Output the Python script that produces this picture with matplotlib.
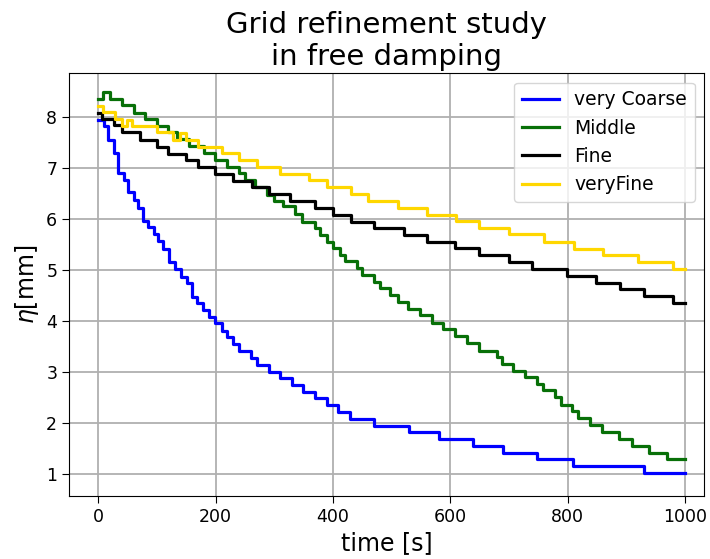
import matplotlib
matplotlib.use('Agg')
import matplotlib.pyplot as plt

# time [s] where each level starts, and the level eta [mm]
t_coarse = [0, 9, 16, 26, 34, 44, 50, 60, 68, 76, 85, 95, 102, 110, 120, 131, 140, 151, 159,
            168, 179, 188, 199, 210, 219, 230, 240, 260, 270, 290, 310, 330, 349, 369, 389,
            409, 429, 469, 530, 580, 639, 689, 748, 809, 929, 1000]
eta_coarse = [7.93, 7.81, 7.55, 7.28, 6.89, 6.76, 6.52, 6.36, 6.21, 5.96, 5.83, 5.70, 5.56,
              5.40, 5.14, 5.01, 4.86, 4.73, 4.47, 4.34, 4.21, 4.08, 3.95, 3.80, 3.67, 3.54,
              3.41, 3.26, 3.12, 3.00, 2.87, 2.74, 2.60, 2.48, 2.35, 2.20, 2.07, 1.94, 1.81,
              1.67, 1.54, 1.41, 1.28, 1.15, 1.02, 1.02]

t_middle = [0, 8.5, 20, 40, 60, 80, 100, 119, 134, 155, 180, 199, 220, 240, 250, 267, 287,
            300, 314, 335, 347, 369, 378, 389, 400, 412, 420, 440, 449, 469, 480, 497, 511,
            528, 548, 568, 588, 608, 628, 648, 679, 688, 707, 727, 747, 757, 778, 788, 807,
            818, 838, 858, 888, 909, 939, 969, 1000]
eta_middle = [8.34, 8.49, 8.34, 8.23, 8.08, 7.95, 7.82, 7.69, 7.56, 7.42, 7.29, 7.15, 7.01,
              6.89, 6.76, 6.62, 6.46, 6.35, 6.24, 6.09, 5.94, 5.81, 5.68, 5.55, 5.42, 5.29,
              5.16, 5.03, 4.90, 4.76, 4.64, 4.50, 4.37, 4.23, 4.10, 3.96, 3.83, 3.70, 3.56,
              3.41, 3.28, 3.15, 3.02, 2.89, 2.76, 2.63, 2.50, 2.35, 2.22, 2.09, 1.95, 1.81,
              1.68, 1.55, 1.41, 1.28, 1.28]

t_fine = [0, 6, 26, 40, 71, 100, 119, 150, 169, 199, 230, 261, 290, 327, 369, 400, 430, 470,
          520, 560, 608, 649, 700, 739, 798, 848, 889, 929, 979, 1000]
eta_fine = [8.08, 7.95, 7.84, 7.69, 7.54, 7.41, 7.27, 7.14, 7.01, 6.88, 6.74, 6.62, 6.48,
            6.35, 6.21, 6.08, 5.94, 5.81, 5.68, 5.55, 5.42, 5.29, 5.14, 5.01, 4.88, 4.74,
            4.61, 4.48, 4.35, 4.35]

t_veryfine = [0, 8.5, 28.5, 40, 48, 57, 99.5, 128, 139, 149.5, 169, 210, 239, 270, 310, 359,
              389, 430, 460, 510, 560, 610, 649, 700, 760, 810, 860, 919, 979, 1000]
eta_veryfine = [8.21, 8.10, 7.95, 7.82, 7.94, 7.82, 7.69, 7.54, 7.67, 7.54, 7.41, 7.28, 7.15,
                7.01, 6.88, 6.76, 6.62, 6.48, 6.34, 6.21, 6.08, 5.95, 5.82, 5.69, 5.54, 5.41,
                5.28, 5.15, 5.01, 5.01]

fig = plt.figure(figsize=(7.1, 5.59), dpi=100)
ax = fig.add_axes([0.0972, 0.1127, 0.8943, 0.7562])

ax.plot(t_coarse, eta_coarse, drawstyle='steps-post', color='blue', lw=2.3, label='very Coarse')
ax.plot(t_middle, eta_middle, drawstyle='steps-post', color='#087008', lw=2.3, label='Middle')
ax.plot(t_fine, eta_fine, drawstyle='steps-post', color='black', lw=2.3, label='Fine')
ax.plot(t_veryfine, eta_veryfine, drawstyle='steps-post', color='gold', lw=2.3, label='veryFine')

ax.set_xlim(-50, 1032)
ax.set_ylim(0.56, 8.85)
ax.set_xticks([0, 200, 400, 600, 800, 1000])
ax.set_yticks([1, 2, 3, 4, 5, 6, 7, 8])
ax.tick_params(labelsize=12.5, length=5)
ax.grid(True, color='#b0b0b0', lw=1.3)

ax.set_xlabel('time [s]', fontsize=17)
ax.set_ylabel(r'$\eta$[mm]', fontsize=17)
ax.set_title('Grid refinement study\nin free damping', fontsize=21)
ax.legend(loc='upper right', fontsize=13.5)

plt.savefig('out.png', dpi=100)
plt.close()
